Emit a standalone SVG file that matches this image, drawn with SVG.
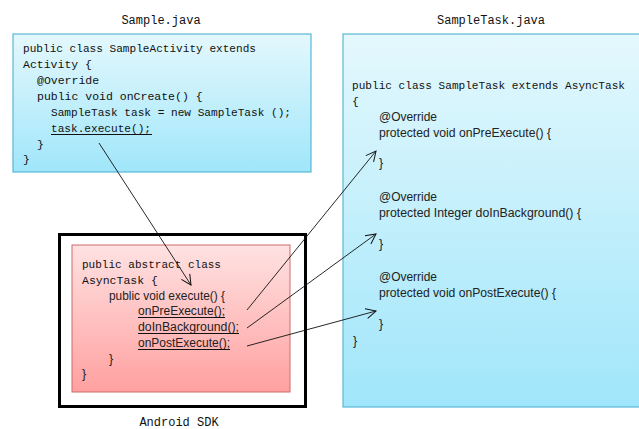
<svg xmlns="http://www.w3.org/2000/svg" width="639" height="429" viewBox="0 0 639 429">
  <style>
    .mono { font-family: "Liberation Mono", "DejaVu Sans Mono", monospace; font-size: 11.5px; fill: #111; }
    .prop { font-family: "Liberation Sans", Arial, sans-serif; font-size: 12.5px; fill: #222; }
    .label { font-family: "Liberation Mono", "DejaVu Sans Mono", monospace; font-size: 12px; fill: #111; text-anchor: middle; }
    .ul { stroke: #111; stroke-width: 1; }
    .blue { fill: url(#blueGrad); stroke: #5ab8d8; stroke-width: 1.2; }
    .pink { fill: url(#pinkGrad); stroke: #cf6a6a; stroke-width: 1; }
    .conn { stroke: #111; stroke-width: 0.9; fill: none; marker-end: url(#openArrow); }
  </style>
  <defs>
    <linearGradient id="blueGrad" x1="0" y1="0" x2="0" y2="1">
      <stop offset="0" stop-color="#e4f8fd"/>
      <stop offset="1" stop-color="#a0e6fa"/>
    </linearGradient>
    <linearGradient id="pinkGrad" x1="0" y1="0" x2="0" y2="1">
      <stop offset="0" stop-color="#ffe2e2"/>
      <stop offset="1" stop-color="#ffa0a0"/>
    </linearGradient>
    <marker id="openArrow" viewBox="0 0 12 12" refX="11" refY="6" markerWidth="12" markerHeight="12" markerUnits="userSpaceOnUse" orient="auto">
      <path d="M1,1 L11,6 L1,11" fill="none" stroke="#111" stroke-width="1"/>
    </marker>
  </defs>

  <rect width="639" height="429" fill="#ffffff"/>

  <!-- Sample.java -->
  <g id="sample-java">
    <text class="label" x="161" y="24">Sample.java</text>
    <rect class="blue" x="13" y="34" width="298" height="138"/>
    <text class="mono" x="23" y="52" textLength="233" lengthAdjust="spacingAndGlyphs">public class SampleActivity extends</text>
    <text class="mono" x="23" y="68">Activity {</text>
    <text class="mono" x="37" y="84">@Override</text>
    <text class="mono" x="37" y="100">public void onCreate() {</text>
    <text class="mono" x="51" y="116" textLength="240" lengthAdjust="spacingAndGlyphs">SampleTask task = new SampleTask ();</text>
    <text class="mono" x="51" y="132" textLength="100" lengthAdjust="spacingAndGlyphs">task.execute();</text>
    <line class="ul" x1="51" y1="134.5" x2="152" y2="134.5"/>
    <text class="mono" x="37" y="148">}</text>
    <text class="mono" x="23" y="163">}</text>
  </g>

  <!-- SampleTask.java -->
  <g id="sampletask-java">
    <text class="label" x="491" y="24">SampleTask.java</text>
    <rect class="blue" x="343" y="34" width="310" height="373"/>
    <text class="mono" x="352" y="89" textLength="273" lengthAdjust="spacingAndGlyphs">public class SampleTask extends AsyncTask</text>
    <text class="mono" x="352" y="105">{</text>
    <text class="prop" x="379" y="121" textLength="58" lengthAdjust="spacingAndGlyphs">@Override</text>
    <text class="prop" x="379" y="137" textLength="172" lengthAdjust="spacingAndGlyphs">protected void onPreExecute() {</text>
    <text class="prop" x="379" y="167">}</text>
    <text class="prop" x="379" y="201" textLength="58" lengthAdjust="spacingAndGlyphs">@Override</text>
    <text class="prop" x="379" y="217" textLength="202" lengthAdjust="spacingAndGlyphs">protected Integer doInBackground() {</text>
    <text class="prop" x="379" y="248">}</text>
    <text class="prop" x="379" y="281" textLength="58" lengthAdjust="spacingAndGlyphs">@Override</text>
    <text class="prop" x="379" y="297" textLength="177" lengthAdjust="spacingAndGlyphs">protected void onPostExecute() {</text>
    <text class="prop" x="379" y="328">}</text>
    <text class="prop" x="353" y="345">}</text>
  </g>

  <!-- Android SDK -->
  <g id="android-sdk">
    <rect x="59.5" y="234.5" width="246" height="172" fill="none" stroke="#000" stroke-width="3"/>
    <rect class="pink" x="72" y="245" width="218" height="147"/>
    <text class="mono" x="82" y="268" textLength="139" lengthAdjust="spacingAndGlyphs">public abstract class</text>
    <text class="mono" x="82" y="284">AsyncTask {</text>
    <text class="prop" x="109" y="300" textLength="116" lengthAdjust="spacingAndGlyphs">public void execute() {</text>
    <text class="prop" x="138" y="315" textLength="87" lengthAdjust="spacingAndGlyphs">onPreExecute();</text>
    <line class="ul" x1="138" y1="317.5" x2="225" y2="317.5"/>
    <text class="prop" x="138" y="331" textLength="101" lengthAdjust="spacingAndGlyphs">doInBackground();</text>
    <line class="ul" x1="138" y1="333.5" x2="239" y2="333.5"/>
    <text class="prop" x="138" y="347" textLength="92" lengthAdjust="spacingAndGlyphs">onPostExecute();</text>
    <line class="ul" x1="138" y1="349.5" x2="230" y2="349.5"/>
    <text class="prop" x="109" y="363">}</text>
    <text class="prop" x="82" y="378">}</text>
    <text class="label" x="179" y="426">Android SDK</text>
  </g>

  <!-- call arrows -->
  <g id="connectors">
    <line class="conn" x1="99" y1="143" x2="191" y2="285"/>
    <line class="conn" x1="247" y1="310" x2="376" y2="151"/>
    <line class="conn" x1="247" y1="328" x2="376" y2="234"/>
    <line class="conn" x1="247" y1="346" x2="376" y2="311"/>
  </g>
</svg>
